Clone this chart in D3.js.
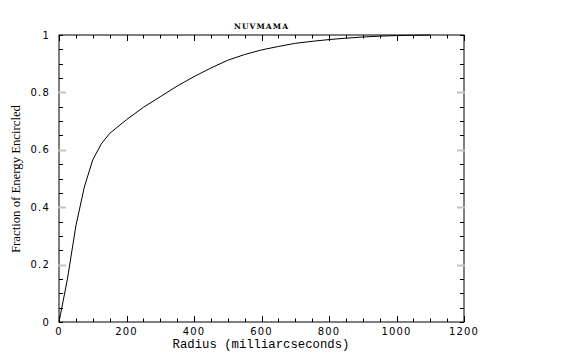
<!DOCTYPE html>
<html>
<head>
<meta charset="utf-8">
<script src="https://cdn.jsdelivr.net/npm/d3@7"></script>
<style>
    body { margin: 0; background: #fff; }
    svg { display: block; }
</style>
</head>
<body>
<svg id="chart" width="565" height="354"></svg>
<script>
// data
const radius = [0, 25, 50, 75, 100, 125, 150, 200, 250, 300, 350, 400, 450, 500, 550, 600, 650, 700, 750, 800, 850, 900, 950, 1000, 1050, 1100];
const fraction = [0, 0.15, 0.335, 0.47, 0.565, 0.62, 0.657, 0.705, 0.748, 0.785, 0.822, 0.855, 0.885, 0.912, 0.932, 0.948, 0.96, 0.971, 0.978, 0.984, 0.989, 0.993, 0.996, 0.998, 0.999, 1.0];
const xTicks = [0, 200, 400, 600, 800, 1000, 1200];
const yTicks = [0, 0.2, 0.4, 0.6, 0.8, 1];
const yTickLabels = ["0", "0.2", "0.4", "0.6", "0.8", "1"];

const svg = d3.select("#chart");

// plot box
const boxLeft = 59, boxRight = 464, boxTop = 35, boxBottom = 322;

const xScale = d3.scaleLinear().domain([0, 1200]).range([boxLeft, boxRight]);
const yScale = d3.scaleLinear().domain([0, 1]).range([boxBottom, boxTop]);

const points = radius.map((r, i) => ({ r: r, f: fraction[i] }));

// frame
svg.append("rect")
    .attr("x", boxLeft)
    .attr("y", boxTop)
    .attr("width", boxRight - boxLeft)
    .attr("height", boxBottom - boxTop)
    .attr("fill", "none")
    .attr("stroke", "#000")
    .attr("stroke-width", 1);

// inward ticks on all four sides
const xMinor = d3.range(0, 1201, 50);
const yMinor = d3.range(0, 1.0001, 0.05);

const tickGroup = svg.append("g").attr("stroke", "#000").attr("stroke-width", 1);

xMinor.forEach(v => {
    const major = v % 200 === 0;
    const len = major ? 6 : 3.5;
    const x = Math.round(xScale(v)) + 0.5;
    tickGroup.append("line").attr("x1", x).attr("x2", x).attr("y1", boxBottom).attr("y2", boxBottom - len);
    tickGroup.append("line").attr("x1", x).attr("x2", x).attr("y1", boxTop).attr("y2", boxTop + len);
});

yMinor.forEach(v => {
    const major = Math.abs(v * 5 - Math.round(v * 5)) < 1e-6;
    const y = Math.round(yScale(v)) + 0.5;
    if (major && v > 0.01 && v < 0.99) {
        // major y ticks look light grey and a bit thicker in the original
        svg.append("line").attr("x1", boxLeft - 1).attr("x2", boxLeft + 7).attr("y1", y).attr("y2", y)
            .attr("stroke", "#c4c4c4").attr("stroke-width", 2);
        svg.append("line").attr("x1", boxRight - 7).attr("x2", boxRight + 1).attr("y1", y).attr("y2", y)
            .attr("stroke", "#c4c4c4").attr("stroke-width", 2);
    } else {
        tickGroup.append("line").attr("x1", boxLeft).attr("x2", boxLeft + 4).attr("y1", y).attr("y2", y);
        tickGroup.append("line").attr("x1", boxRight - 4).attr("x2", boxRight).attr("y1", y).attr("y2", y);
    }
});

// x tick labels
svg.append("g").selectAll("text")
    .data(xTicks)
    .join("text")
    .attr("x", d => xScale(d))
    .attr("y", 335)
    .attr("text-anchor", "middle")
    .attr("font-family", "DejaVu Sans")
    .attr("font-size", 10)
    .attr("letter-spacing", 1.2)
    .attr("fill", "#000")
    .text(d => d);

// y tick labels
svg.append("g").selectAll("text")
    .data(yTicks)
    .join("text")
    .attr("x", 50)
    .attr("y", d => yScale(d) + 3.5)
    .attr("text-anchor", "end")
    .attr("font-family", "DejaVu Sans")
    .attr("font-size", 10)
    .attr("letter-spacing", 1.2)
    .attr("fill", "#000")
    .text((d, i) => yTickLabels[i]);

// curve
const line = d3.line()
    .x(d => xScale(d.r))
    .y(d => yScale(d.f));

svg.append("path")
    .datum(points)
    .attr("d", line)
    .attr("fill", "none")
    .attr("stroke", "#000")
    .attr("stroke-width", 1);

// title
svg.append("text")
    .attr("x", 261)
    .attr("y", 29)
    .attr("text-anchor", "middle")
    .attr("font-family", "DejaVu Serif")
    .attr("font-weight", "bold")
    .attr("font-size", 7.5)
    .attr("textLength", 54)
    .attr("lengthAdjust", "spacing")
    .text("NUVMAMA");

// x axis title
svg.append("text")
    .attr("x", 261)
    .attr("y", 348)
    .attr("text-anchor", "middle")
    .attr("font-family", "Liberation Mono")
    .attr("font-size", 12)
    .attr("textLength", 177)
    .attr("lengthAdjust", "spacingAndGlyphs")
    .text("Radius (milliarcseconds)");

// y axis title
svg.append("text")
    .attr("transform", "translate(20,179) rotate(-90)")
    .attr("text-anchor", "middle")
    .attr("font-family", "Liberation Serif")
    .attr("font-size", 12)
    .attr("textLength", 148)
    .attr("lengthAdjust", "spacingAndGlyphs")
    .text("Fraction of Energy Encircled");
</script>
</body>
</html>
